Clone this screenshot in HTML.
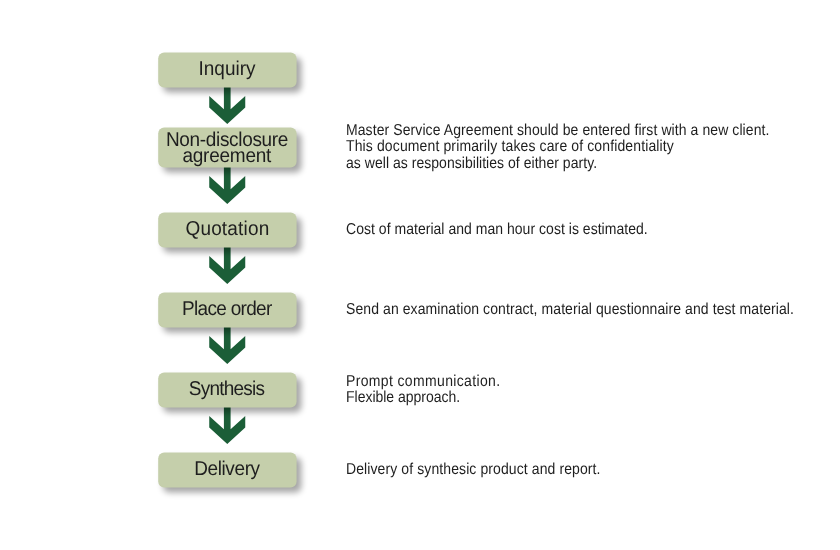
<!DOCTYPE html>
<html lang="en">
<head>
<meta charset="utf-8">
<title>Flow</title>
<style>
html,body{margin:0;padding:0;background:#fff;}
body{width:840px;height:550px;position:relative;overflow:hidden;font-family:"Liberation Sans","Noto Sans CJK JP",sans-serif;color:#1e1e1e;}
.g{position:absolute;left:0;top:0;}
.flow,.step,.title,.text{margin:0;padding:0;list-style:none;font:inherit;font-weight:normal;}
.lab{position:absolute;display:block;text-rendering:geometricPrecision;transform:scaleY(1.055);transform-origin:0 16.6px;font-size:19px;line-height:20px;white-space:nowrap;}
.desc{position:absolute;display:block;text-rendering:geometricPrecision;transform:scaleY(1.13);transform-origin:0 12.85px;left:346px;font-size:14px;line-height:16px;white-space:nowrap;}
</style>
</head>
<body>
<svg class="g" width="840" height="550" viewBox="0 0 840 550">
<defs><filter id="sh" x="-10%" y="-30%" width="120%" height="170%"><feGaussianBlur stdDeviation="3.0"/></filter></defs>
<g fill="#1b5e37"><path d="M223.90 87.10H230.60V109.20L245.25 96.00V107.60L227.25 124.00L209.25 107.60V96.00L223.90 109.20Z"/><path d="M223.90 167.10H230.60V189.20L245.25 176.00V187.60L227.25 204.00L209.25 187.60V176.00L223.90 189.20Z"/><path d="M223.90 247.10H230.60V269.20L245.25 256.00V267.60L227.25 284.00L209.25 267.60V256.00L223.90 269.20Z"/><path d="M223.90 327.10H230.60V349.20L245.25 336.00V347.60L227.25 364.00L209.25 347.60V336.00L223.90 349.20Z"/><path d="M223.90 407.10H230.60V429.20L245.25 416.00V427.60L227.25 444.00L209.25 427.60V416.00L223.90 429.20Z"/></g>
<g fill="#000" opacity="0.35" filter="url(#sh)"><rect x="163.00" y="57.40" width="138.4" height="35.0" rx="6"/><rect x="163.00" y="132.40" width="138.4" height="40.0" rx="6"/><rect x="163.00" y="217.40" width="138.4" height="35.0" rx="6"/><rect x="163.00" y="297.40" width="138.4" height="35.0" rx="6"/><rect x="163.00" y="377.40" width="138.4" height="35.0" rx="6"/><rect x="163.00" y="457.40" width="138.4" height="35.0" rx="6"/></g>
<g fill="#c5cfab"><rect x="158.2" y="52.6" width="138.4" height="35.0" rx="6"/><rect x="158.2" y="127.6" width="138.4" height="40.0" rx="6"/><rect x="158.2" y="212.6" width="138.4" height="35.0" rx="6"/><rect x="158.2" y="292.6" width="138.4" height="35.0" rx="6"/><rect x="158.2" y="372.6" width="138.4" height="35.0" rx="6"/><rect x="158.2" y="452.6" width="138.4" height="35.0" rx="6"/></g>
</svg>
<ol class="flow">
<li class="step">
<h2 class="title"><span class="lab" style="left:198.54px;top:60.4px;letter-spacing:-0.020px">Inquiry</span></h2>
</li>
<li class="step">
<h2 class="title"><span class="lab" style="left:165.96px;top:131.0px;letter-spacing:-0.331px">Non-disclosure</span> <span class="lab" style="left:182.43px;top:146.8px;letter-spacing:-0.237px">agreement</span></h2>
<p class="text"><span class="desc" style="top:121.75px;letter-spacing:0.084px">Master Service Agreement should be entered first with a new client.</span>
<span class="desc" style="top:138.35px;letter-spacing:0.124px">This document primarily takes care of confidentiality</span>
<span class="desc" style="top:154.95px;letter-spacing:0.035px">as well as responsibilities of either party.</span></p>
</li>
<li class="step">
<h2 class="title"><span class="lab" style="left:185.44px;top:220.4px;letter-spacing:0.171px">Quotation</span></h2>
<p class="text"><span class="desc" style="top:221.05px;letter-spacing:0.028px">Cost of material and man hour cost is estimated.</span></p>
</li>
<li class="step">
<h2 class="title"><span class="lab" style="left:181.99px;top:300.4px;letter-spacing:-0.689px">Place order</span></h2>
<p class="text"><span class="desc" style="top:301.05px;letter-spacing:0.084px">Send an examination contract, material questionnaire and test material.</span></p>
</li>
<li class="step">
<h2 class="title"><span class="lab" style="left:188.76px;top:380.4px;letter-spacing:-0.765px">Synthesis</span></h2>
<p class="text"><span class="desc" style="top:372.65px;letter-spacing:0.352px">Prompt communication.</span>
<span class="desc" style="top:389.25px;letter-spacing:-0.018px">Flexible approach.</span></p>
</li>
<li class="step">
<h2 class="title"><span class="lab" style="left:194.13px;top:460.4px;letter-spacing:-0.380px">Delivery</span></h2>
<p class="text"><span class="desc" style="top:461.05px;letter-spacing:0.098px">Delivery of synthesic product and report.</span></p>
</li>
</ol>
</body>
</html>
